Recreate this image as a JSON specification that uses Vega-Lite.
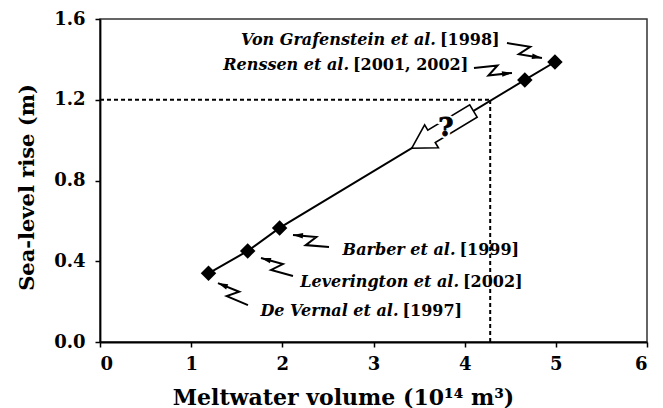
{
  "$schema": "https://vega.github.io/schema/vega-lite/v6.json",
  "width": 547,
  "height": 323,
  "autosize": {"type": "none"},
  "padding": {"left": 100, "top": 19, "right": 16, "bottom": 66},
  "background": "white",
  "config": {"view": {"stroke": "#333", "strokeWidth": 1.5}, "font": "DejaVu Serif"},
  "datasets": {
    "points": [
      {"x": 1.19, "y": 0.34},
      {"x": 1.62, "y": 0.451},
      {"x": 1.97, "y": 0.565},
      {"x": 4.66, "y": 1.298},
      {"x": 4.99, "y": 1.387}
    ],
    "guides": [
      {"seg": "h", "o": 1, "x": 0, "y": 1.2},
      {"seg": "h", "o": 2, "x": 4.28, "y": 1.2},
      {"seg": "v", "o": 1, "x": 4.28, "y": 0},
      {"seg": "v", "o": 2, "x": 4.28, "y": 1.2}
    ],
    "arrows": [
      {"id": "VG", "o": 1, "x": 4.464, "y": 1.481},
      {"id": "VG", "o": 2, "x": 4.719, "y": 1.462},
      {"id": "VG", "o": 3, "x": 4.594, "y": 1.426},
      {"id": "VG", "o": 4, "x": 4.848, "y": 1.407},
      {"id": "RS", "o": 1, "x": 4.102, "y": 1.357},
      {"id": "RS", "o": 2, "x": 4.36, "y": 1.37},
      {"id": "RS", "o": 3, "x": 4.261, "y": 1.32},
      {"id": "RS", "o": 4, "x": 4.519, "y": 1.333},
      {"id": "BA", "o": 1, "x": 2.512, "y": 0.471},
      {"id": "BA", "o": 2, "x": 2.256, "y": 0.48},
      {"id": "BA", "o": 3, "x": 2.373, "y": 0.52},
      {"id": "BA", "o": 4, "x": 2.117, "y": 0.53},
      {"id": "LE", "o": 1, "x": 2.117, "y": 0.327},
      {"id": "LE", "o": 2, "x": 1.877, "y": 0.357},
      {"id": "LE", "o": 3, "x": 2.006, "y": 0.386},
      {"id": "LE", "o": 4, "x": 1.766, "y": 0.416},
      {"id": "DV", "o": 1, "x": 1.623, "y": 0.183},
      {"id": "DV", "o": 2, "x": 1.39, "y": 0.227},
      {"id": "DV", "o": 3, "x": 1.527, "y": 0.249},
      {"id": "DV", "o": 4, "x": 1.294, "y": 0.292}
    ],
    "labels": [
      {"name": "Von Grafenstein et al.", "ref": "[1998]", "x": 3.696, "y": 1.496},
      {"name": "Renssen et al.", "ref": "[2001, 2002]", "x": 2.742, "y": 1.372},
      {"name": "Barber et al.", "ref": "[1999]", "x": 3.91, "y": 0.456},
      {"name": "Leverington et al.", "ref": "[2002]", "x": 3.949, "y": 0.297},
      {"name": "De Vernal et al.", "ref": "[1997]", "x": 3.285, "y": 0.154}
    ],
    "bigarrow": [{"x": 3.758, "y": 1.052}],
    "question": [{"x": 3.795, "y": 1.06, "t": "?"}]
  },
  "layer": [
    {
      "data": {"name": "guides"},
      "mark": {"type": "line", "color": "black", "strokeWidth": 2, "strokeDash": [4, 3]},
      "encoding": {
        "x": {"field": "x", "type": "quantitative", "scale": {"domain": [0, 6], "nice": false, "zero": false},
          "axis": {"title": "Meltwater volume (10¹⁴ m³)", "values": [0, 1, 2, 3, 4, 5, 6], "format": "d", "grid": false,
            "domainColor": "black", "domainWidth": 1.8, "tickColor": "black", "tickWidth": 1.5, "tickSize": 5,
            "labelFont": "DejaVu Serif", "labelFontWeight": "bold", "labelFontSize": 18, "labelColor": "black", "labelPadding": 8,
            "titleFont": "DejaVu Serif", "titleFontWeight": "bold", "titleFontSize": 22, "titleColor": "black",
            "titleX": 243, "titleY": 62, "titleBaseline": "alphabetic", "titleAlign": "center"}},
        "y": {"field": "y", "type": "quantitative", "scale": {"domain": [0, 1.6], "nice": false, "zero": false},
          "axis": {"title": "Sea-level rise (m)", "values": [0, 0.4, 0.8, 1.2, 1.6], "format": ".1f", "grid": false,
            "domainColor": "black", "domainWidth": 1.8, "tickColor": "black", "tickWidth": 1.5, "tickSize": 5,
            "labelFont": "DejaVu Serif", "labelFontWeight": "bold", "labelFontSize": 18, "labelColor": "black", "labelPadding": 10,
            "titleFont": "DejaVu Serif", "titleFontWeight": "bold", "titleFontSize": 21, "titleColor": "black",
            "titleX": -73, "titleY": 168, "titleAngle": -90, "titleAlign": "center", "titleBaseline": "middle"}},
        "detail": {"field": "seg"},
        "order": {"field": "o"}
      }
    },
    {
      "data": {"name": "points"},
      "mark": {"type": "line", "color": "black", "strokeWidth": 2},
      "encoding": {"x": {"field": "x", "type": "quantitative"}, "y": {"field": "y", "type": "quantitative"}}
    },
    {
      "data": {"name": "points"},
      "mark": {"type": "point", "shape": "diamond", "filled": true, "color": "black", "opacity": 1, "size": 240},
      "encoding": {"x": {"field": "x", "type": "quantitative"}, "y": {"field": "y", "type": "quantitative"}}
    },
    {
      "data": {"name": "arrows"},
      "mark": {"type": "line", "color": "black", "strokeWidth": 2},
      "encoding": {"x": {"field": "x", "type": "quantitative"}, "y": {"field": "y", "type": "quantitative"},
        "detail": {"field": "id"}, "order": {"field": "o"}}
    },
    {
      "data": {"name": "arrows"},
      "transform": [{"filter": "datum.id == 'VG' && datum.o == 4"}],
      "mark": {"type": "point", "shape": "M 0 0 L 0.55 2 L -0.55 2 Z", "filled": true, "color": "black", "opacity": 1, "size": 100, "angle": 99.7},
      "encoding": {"x": {"field": "x", "type": "quantitative"}, "y": {"field": "y", "type": "quantitative"}}
    },
    {
      "data": {"name": "arrows"},
      "transform": [{"filter": "datum.id == 'RS' && datum.o == 4"}],
      "mark": {"type": "point", "shape": "M 0 0 L 0.55 2 L -0.55 2 Z", "filled": true, "color": "black", "opacity": 1, "size": 100, "angle": 84},
      "encoding": {"x": {"field": "x", "type": "quantitative"}, "y": {"field": "y", "type": "quantitative"}}
    },
    {
      "data": {"name": "arrows"},
      "transform": [{"filter": "datum.id == 'BA' && datum.o == 4"}],
      "mark": {"type": "point", "shape": "M 0 0 L 0.55 2 L -0.55 2 Z", "filled": true, "color": "black", "opacity": 1, "size": 100, "angle": 274.8},
      "encoding": {"x": {"field": "x", "type": "quantitative"}, "y": {"field": "y", "type": "quantitative"}}
    },
    {
      "data": {"name": "arrows"},
      "transform": [{"filter": "datum.id == 'LE' && datum.o == 4"}],
      "mark": {"type": "point", "shape": "M 0 0 L 0.55 2 L -0.55 2 Z", "filled": true, "color": "black", "opacity": 1, "size": 100, "angle": 285.3},
      "encoding": {"x": {"field": "x", "type": "quantitative"}, "y": {"field": "y", "type": "quantitative"}}
    },
    {
      "data": {"name": "arrows"},
      "transform": [{"filter": "datum.id == 'DV' && datum.o == 4"}],
      "mark": {"type": "point", "shape": "M 0 0 L 0.55 2 L -0.55 2 Z", "filled": true, "color": "black", "opacity": 1, "size": 100, "angle": 292.4},
      "encoding": {"x": {"field": "x", "type": "quantitative"}, "y": {"field": "y", "type": "quantitative"}}
    },
    {
      "data": {"name": "bigarrow"},
      "mark": {"type": "point", "shape": "M -1 0 L -0.36 -0.37 L -0.36 -0.2 L 1 -0.2 L 1 0.2 L -0.36 0.2 L -0.36 0.37 Z",
        "filled": true, "fill": "white", "stroke": "black", "strokeWidth": 1.6, "opacity": 1, "fillOpacity": 1, "strokeOpacity": 1,
        "size": 5184, "angle": 328.9},
      "encoding": {"x": {"field": "x", "type": "quantitative"}, "y": {"field": "y", "type": "quantitative"}}
    },
    {
      "data": {"name": "question"},
      "mark": {"type": "text", "font": "DejaVu Serif", "fontWeight": "bold", "fontSize": 26, "color": "white", "stroke": "white", "strokeWidth": 5, "align": "center", "baseline": "middle"},
      "encoding": {"x": {"field": "x", "type": "quantitative"}, "y": {"field": "y", "type": "quantitative"}, "text": {"field": "t"}}
    },
    {
      "data": {"name": "question"},
      "mark": {"type": "text", "font": "DejaVu Serif", "fontWeight": "bold", "fontSize": 26, "color": "black", "stroke": "black", "strokeWidth": 0.8, "align": "center", "baseline": "middle"},
      "encoding": {"x": {"field": "x", "type": "quantitative"}, "y": {"field": "y", "type": "quantitative"}, "text": {"field": "t"}}
    },
    {
      "data": {"name": "labels"},
      "mark": {"type": "text", "font": "DejaVu Serif", "fontWeight": "bold", "fontStyle": "italic", "fontSize": 16, "color": "black", "align": "right", "baseline": "middle", "dx": -1},
      "encoding": {"x": {"field": "x", "type": "quantitative"}, "y": {"field": "y", "type": "quantitative"}, "text": {"field": "name"}}
    },
    {
      "data": {"name": "labels"},
      "mark": {"type": "text", "font": "DejaVu Serif", "fontWeight": "bold", "fontSize": 16, "color": "black", "align": "left", "baseline": "middle", "dx": 3},
      "encoding": {"x": {"field": "x", "type": "quantitative"}, "y": {"field": "y", "type": "quantitative"}, "text": {"field": "ref"}}
    }
  ]
}
